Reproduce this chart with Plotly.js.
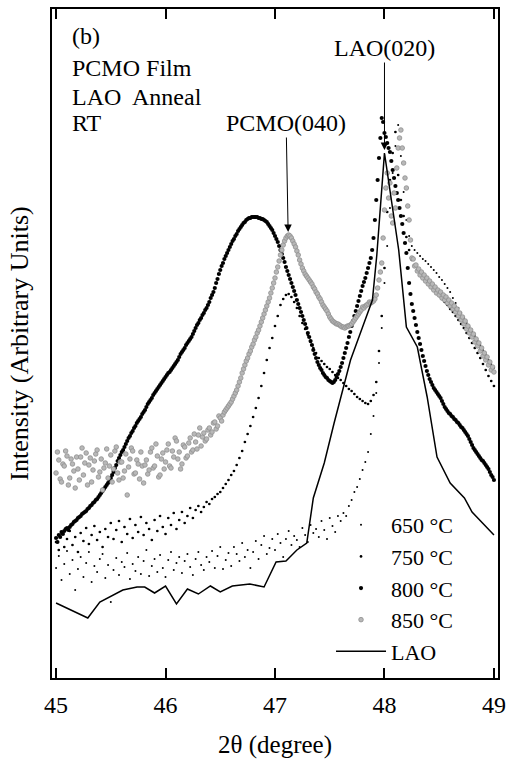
<!DOCTYPE html>
<html lang="en"><head><meta charset="utf-8">
<script src="https://cdn.plot.ly/plotly-3.0.1.min.js"></script>
<style>
html,body{margin:0;padding:0;background:#fff}
#chart{width:508px;height:764px}
</style>
</head><body>
<div id="chart"></div>
<script>
// 2θ sampling angles (degree), 650 °C / 750 °C scans
const twoTheta = [
45.000,45.025,45.050,45.075,45.100,45.125,45.150,45.175,
45.200,45.225,45.250,45.275,45.300,45.325,45.350,45.375,
45.400,45.425,45.450,45.475,45.500,45.525,45.550,45.575,
45.600,45.625,45.650,45.675,45.700,45.725,45.750,45.775,
45.800,45.825,45.850,45.875,45.900,45.925,45.950,45.975,
46.000,46.025,46.050,46.075,46.100,46.125,46.150,46.175,
46.200,46.225,46.250,46.275,46.300,46.325,46.350,46.375,
46.400,46.425,46.450,46.475,46.500,46.525,46.550,46.575,
46.600,46.625,46.650,46.675,46.700,46.725,46.750,46.775,
46.800,46.825,46.850,46.875,46.900,46.925,46.950,46.975,
47.000,47.025,47.050,47.075,47.100,47.125,47.150,47.175,
47.200,47.225,47.250,47.275,47.300,47.325,47.350,47.375,
47.400,47.425,47.450,47.475,47.500,47.525,47.550,47.575,
47.600,47.625,47.650,47.675,47.700,47.725,47.750,47.775,
47.800,47.825,47.850,47.875,47.900,47.925,47.950,47.975,
48.000,48.025,48.050,48.075,48.100,48.125,48.150,48.175,
48.200,48.225,48.250,48.275,48.300,48.325,48.350,48.375,
48.400,48.425,48.450,48.475,48.500,48.525,48.550,48.575,
48.600,48.625,48.650,48.675,48.700,48.725,48.750,48.775,
48.800,48.825,48.850,48.875,48.900,48.925,48.950,48.975,
49.000];

// finer 2θ sampling (degree), 800 °C / 850 °C scans
const twoThetaFine = [
45.0000,45.0125,45.0250,45.0375,45.0500,45.0625,45.0750,45.0875,45.1000,45.1125,45.1250,45.1375,45.1500,45.1625,45.1750,45.1875,
45.2000,45.2125,45.2250,45.2375,45.2500,45.2625,45.2750,45.2875,45.3000,45.3125,45.3250,45.3375,45.3500,45.3625,45.3750,45.3875,
45.4000,45.4125,45.4250,45.4375,45.4500,45.4625,45.4750,45.4875,45.5000,45.5125,45.5250,45.5375,45.5500,45.5625,45.5750,45.5875,
45.6000,45.6125,45.6250,45.6375,45.6500,45.6625,45.6750,45.6875,45.7000,45.7125,45.7250,45.7375,45.7500,45.7625,45.7750,45.7875,
45.8000,45.8125,45.8250,45.8375,45.8500,45.8625,45.8750,45.8875,45.9000,45.9125,45.9250,45.9375,45.9500,45.9625,45.9750,45.9875,
46.0000,46.0125,46.0250,46.0375,46.0500,46.0625,46.0750,46.0875,46.1000,46.1125,46.1250,46.1375,46.1500,46.1625,46.1750,46.1875,
46.2000,46.2125,46.2250,46.2375,46.2500,46.2625,46.2750,46.2875,46.3000,46.3125,46.3250,46.3375,46.3500,46.3625,46.3750,46.3875,
46.4000,46.4125,46.4250,46.4375,46.4500,46.4625,46.4750,46.4875,46.5000,46.5125,46.5250,46.5375,46.5500,46.5625,46.5750,46.5875,
46.6000,46.6125,46.6250,46.6375,46.6500,46.6625,46.6750,46.6875,46.7000,46.7125,46.7250,46.7375,46.7500,46.7625,46.7750,46.7875,
46.8000,46.8125,46.8250,46.8375,46.8500,46.8625,46.8750,46.8875,46.9000,46.9125,46.9250,46.9375,46.9500,46.9625,46.9750,46.9875,
47.0000,47.0125,47.0250,47.0375,47.0500,47.0625,47.0750,47.0875,47.1000,47.1125,47.1250,47.1375,47.1500,47.1625,47.1750,47.1875,
47.2000,47.2125,47.2250,47.2375,47.2500,47.2625,47.2750,47.2875,47.3000,47.3125,47.3250,47.3375,47.3500,47.3625,47.3750,47.3875,
47.4000,47.4125,47.4250,47.4375,47.4500,47.4625,47.4750,47.4875,47.5000,47.5125,47.5250,47.5375,47.5500,47.5625,47.5750,47.5875,
47.6000,47.6125,47.6250,47.6375,47.6500,47.6625,47.6750,47.6875,47.7000,47.7125,47.7250,47.7375,47.7500,47.7625,47.7750,47.7875,
47.8000,47.8125,47.8250,47.8375,47.8500,47.8625,47.8750,47.8875,47.9000,47.9125,47.9250,47.9375,47.9500,47.9625,47.9750,47.9875,
48.0000,48.0125,48.0250,48.0375,48.0500,48.0625,48.0750,48.0875,48.1000,48.1125,48.1250,48.1375,48.1500,48.1625,48.1750,48.1875,
48.2000,48.2125,48.2250,48.2375,48.2500,48.2625,48.2750,48.2875,48.3000,48.3125,48.3250,48.3375,48.3500,48.3625,48.3750,48.3875,
48.4000,48.4125,48.4250,48.4375,48.4500,48.4625,48.4750,48.4875,48.5000,48.5125,48.5250,48.5375,48.5500,48.5625,48.5750,48.5875,
48.6000,48.6125,48.6250,48.6375,48.6500,48.6625,48.6750,48.6875,48.7000,48.7125,48.7250,48.7375,48.7500,48.7625,48.7750,48.7875,
48.8000,48.8125,48.8250,48.8375,48.8500,48.8625,48.8750,48.8875,48.9000,48.9125,48.9250,48.9375,48.9500,48.9625,48.9750,48.9875,
49.0000];

// Intensities (arbitrary units)
const int650 = [
110,122,98,114,127,104,118,88,
109,121,101,115,126,96,112,106,
119,124,100,113,76,108,120,103,
116,111,125,99,114,107,121,104,
117,128,102,112,119,106,123,110,
101,118,126,108,115,121,105,117,
124,111,103,119,126,113,108,121,
116,127,110,122,131,109,118,125,
112,131,124,117,135,121,128,110,
126,137,119,133,142,124,130,139,
128,144,135,121,139,147,133,142,
138,131,150,143,136,153,145,149,
141,157,148,139,160,152,146,162,
157,165,162,172,178,186,191,199,
208,216,226,244,262,285,315,350,
395,432,470,505,532,553,522,486,
458,442,432,428,425,422,419,417,
414,411,408,405,401,398,394,390,
386,380,375,370,365,360,355,351,
346,342,337,333,328,323,318,314,
310];

const int750 = [
136,128,144,131,139,147,133,141,
126,145,137,150,134,143,152,138,
146,131,149,141,155,139,148,157,
136,151,144,159,140,153,146,161,
143,155,149,138,158,147,162,151,
144,160,153,165,149,158,166,155,
162,170,160,168,172,166,171,176,
174,179,181,184,186,190,194,198,
203,207,213,220,227,236,244,252,
261,270,280,292,305,318,330,340,
352,362,373,379,383,384,381,376,
370,362,355,349,343,336,330,325,
320,317,314,311,309,306,303,300,
298,295,292,289,287,284,281,279,
277,275,274,277,283,296,327,362,
410,466,498,525,546,503,478,462,
441,428,418,413,407,403,400,397,
394,391,388,385,382,379,376,373,
369,366,362,358,354,350,345,340,
335,330,325,320,314,308,302,297,
292];

const int800 = [
140,136,143,141,146,144,147,149,150,148,151,153,154,156,157,158,
160,161,162,164,165,166,167,169,170,172,173,175,176,178,179,181,
183,185,187,189,191,193,195,197,200,203,206,210,213,217,220,223,
226,228,231,234,237,240,242,245,247,250,252,255,257,259,261,264,
266,268,271,274,276,278,280,283,285,287,289,291,293,295,297,299,
301,303,305,306,308,310,312,314,316,318,321,324,326,328,330,333,
335,337,339,341,344,347,350,353,355,358,360,363,365,368,370,373,
376,380,383,386,390,395,399,404,408,412,415,419,422,425,428,431,
434,437,439,442,444,447,449,451,453,455,456,458,459,460,460,461,
461,461,461,461,460,460,459,459,458,457,456,454,452,450,448,445,
442,439,436,432,428,424,420,416,411,407,403,399,395,391,387,383,
378,374,370,366,362,358,354,350,345,341,337,333,328,324,320,316,
313,310,308,305,303,301,300,298,297,296,295,296,298,301,304,307,
311,315,320,325,330,335,341,346,352,357,362,367,372,377,382,387,
392,396,400,405,410,415,420,428,440,458,478,498,520,540,560,556,
545,541,535,530,526,517,508,500,492,485,478,470,462,454,445,435,
425,410,395,384,374,367,360,353,346,340,334,328,322,317,312,307,
303,299,296,293,290,288,286,284,282,280,277,274,271,269,267,265,
264,262,261,259,258,256,255,253,251,250,248,246,244,242,239,236,
233,230,228,226,224,222,220,218,217,215,213,211,209,206,203,201,
198];

const int850 = [
205,226,218,199,196,214,212,227,222,193,200,219,214,207,190,221,
209,198,221,230,203,215,225,193,213,220,196,208,217,224,228,201,
206,219,188,210,215,229,200,212,223,196,209,227,231,205,198,216,
216,200,207,224,183,211,219,230,227,204,205,218,214,199,226,212,
195,213,218,204,208,226,230,210,212,234,222,201,203,219,225,209,
216,228,234,212,210,227,221,240,237,219,226,209,214,233,231,220,
222,235,240,226,228,244,236,229,243,250,232,241,245,237,239,248,
250,243,246,255,256,249,252,262,260,257,263,266,268,270,272,274,
276,279,282,285,288,292,296,300,305,309,313,317,320,324,327,331,
334,338,341,345,348,352,356,360,364,368,372,376,380,385,390,395,
400,406,411,417,423,428,433,437,440,442,443,442,440,437,434,431,
427,423,418,414,410,407,404,402,400,398,396,394,391,389,386,384,
381,379,376,373,371,369,367,364,361,359,357,356,355,354,354,353,
352,351,351,350,351,352,352,353,354,356,358,360,362,364,366,368,
371,370,372,373,374,376,375,376,377,379,383,390,398,406,415,440,
468,490,505,480,495,462,455,485,470,510,530,540,548,530,515,500,
490,472,458,438,420,419,412,413,407,409,403,406,400,403,397,400,
394,397,391,394,388,391,385,388,383,386,380,383,378,381,375,378,
372,375,369,372,366,369,362,365,358,361,354,357,349,352,345,348,
341,344,336,339,332,335,327,330,322,325,318,321,313,316,308,311,
306];

// LAO substrate reference scan
const laoTheta = [45.00,45.29,45.40,45.61,45.74,45.81,45.90,46.00,46.10,46.20,46.30,46.41,46.50,46.61,46.77,46.90,47.01,47.10,47.20,47.29,47.35,47.45,47.54,47.69,47.79,47.89,47.93,48.00,48.13,48.20,48.30,48.39,48.48,48.60,48.73,48.80,49.00];
const laoIntensity = [75,60,76,88,91,91,85,92,74,89,84,92,86,92,94,91,116,117,128,135,180,215,255,318,348,378,423,525,428,351,331,281,221,195,180,166,143];

const seriesNames = ['650 \u00b0C','750 \u00b0C','800 \u00b0C','850 \u00b0C','LAO'];
const xTicks = [45,46,47,48,49];
const peakPCMO = {x: 47.12, y: 446, label: 'PCMO(040)'};
const peakLAO = {x: 48.00, y: 528, label: 'LAO(020)'};
const infoLines = ['(b)','PCMO Film','LAO\u00a0 Anneal','RT'];

const SERIF = 'Liberation Serif';

const traces = [
  {x: twoTheta, y: int650, name: seriesNames[0], mode: 'markers', type: 'scatter',
   marker: {color: '#000', size: 2}},
  {x: twoTheta, y: int750, name: seriesNames[1], mode: 'markers', type: 'scatter',
   marker: {color: '#000', size: 2.7}},
  {x: twoThetaFine, y: int800, name: seriesNames[2], mode: 'markers', type: 'scatter',
   marker: {color: '#000', size: 4.2}},
  {x: twoThetaFine, y: int850, name: seriesNames[3], mode: 'markers', type: 'scatter',
   marker: {color: '#b8b8b8', size: 4.6, line: {color: '#8f8f8f', width: 0.8}}},
  {x: laoTheta, y: laoIntensity, name: seriesNames[4], mode: 'lines', type: 'scatter',
   line: {color: '#000', width: 1.5}}
];

const infoY = [0.960, 0.912, 0.868, 0.830];
const annotations = infoLines.map((t, i) => ({
  xref: 'paper', yref: 'paper', x: 0.040, y: infoY[i], xanchor: 'left', yanchor: 'middle',
  text: t, showarrow: false, font: {family: SERIF, size: 24}
}));
annotations.push({
  x: peakPCMO.x, y: peakPCMO.y, xref: 'x', yref: 'y', text: peakPCMO.label,
  showarrow: true, ax: -2, ay: -109, arrowhead: 2, arrowsize: 1.5, arrowwidth: 1,
  arrowcolor: '#000', standoff: 0, font: {family: SERIF, size: 24}
});
annotations.push({
  x: peakLAO.x, y: peakLAO.y, xref: 'x', yref: 'y', text: peakLAO.label,
  showarrow: true, ax: 0, ay: -102, arrowhead: 2, arrowsize: 1.5, arrowwidth: 1,
  arrowcolor: '#000', standoff: 0, font: {family: SERIF, size: 24}
});

const layout = {
  width: 508, height: 764,
  margin: {l: 52, r: 10, t: 9, b: 86},
  paper_bgcolor: '#fff', plot_bgcolor: '#fff',
  font: {family: SERIF, size: 24, color: '#000'},
  showlegend: true,
  legend: {x: 0.6256, y: 0.26, xanchor: 'left', yanchor: 'top', bgcolor: 'rgba(0,0,0,0)',
           borderwidth: 0, itemwidth: 50, font: {family: SERIF, size: 22}},
  xaxis: {range: [44.963, 49.037], tickvals: xTicks, ticktext: xTicks.map(String),
          ticks: 'inside', ticklen: 10, tickwidth: 1.5, tickcolor: '#000',
          showline: true, linecolor: '#000', linewidth: 2, mirror: 'ticks',
          showgrid: false, zeroline: false, ticklabelstandoff: 4,
          tickfont: {family: SERIF, size: 24},
          title: {text: '2\u03b8 (degree)', font: {family: SERIF, size: 25}, standoff: 19}},
  yaxis: {range: [0, 669], showticklabels: false, ticks: '', showline: true, linecolor: '#000',
          linewidth: 2, mirror: true, showgrid: false, zeroline: false,
          title: {text: 'Intensity (Arbitrary Units)', font: {family: SERIF, size: 26}, standoff: 14}},
  annotations: annotations
};

Plotly.newPlot('chart', traces, layout, {displayModeBar: false});
</script>
</body></html>
